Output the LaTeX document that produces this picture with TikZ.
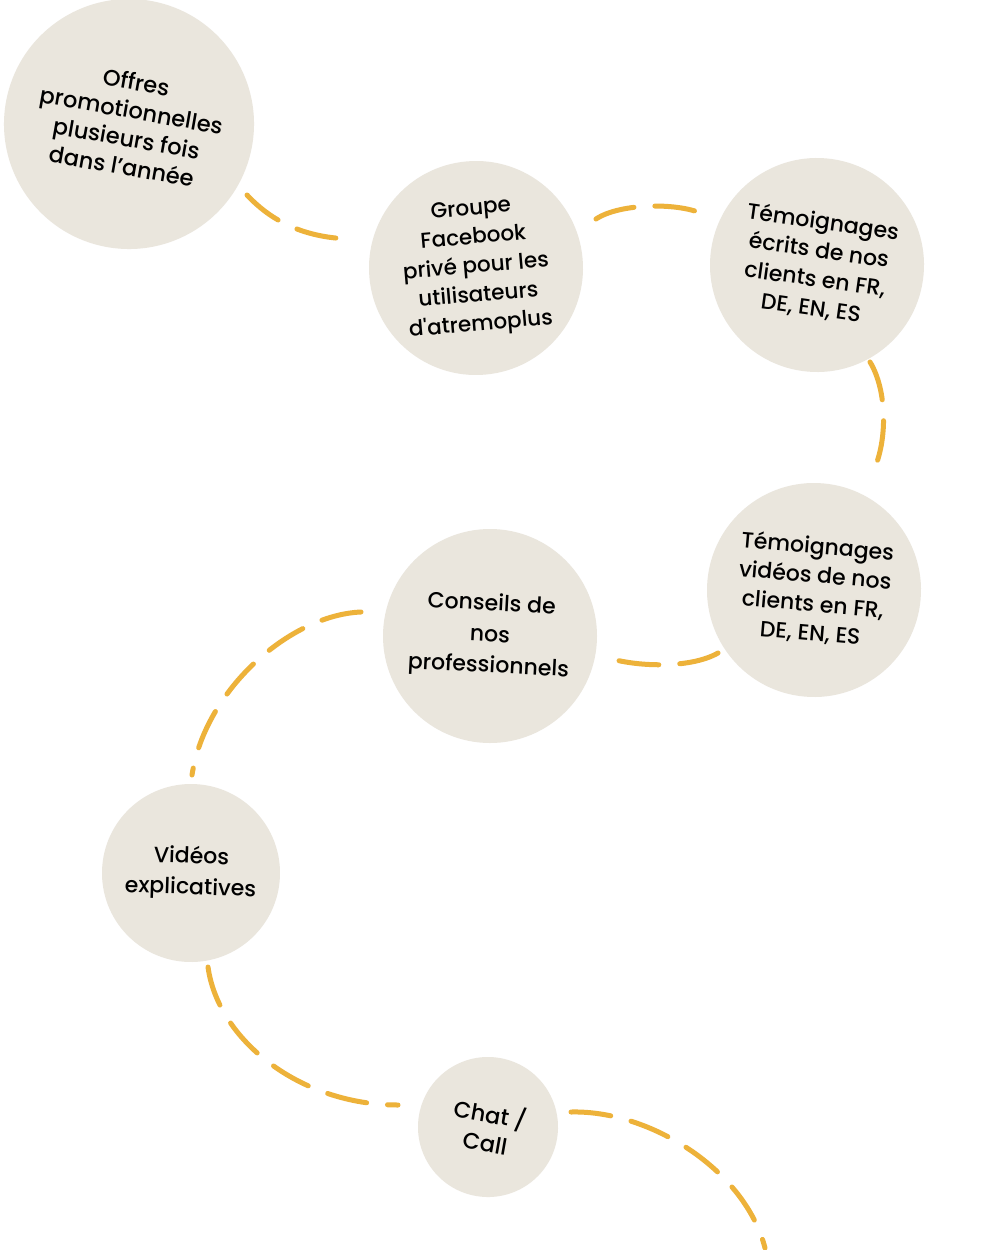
\documentclass[tikz,border=0pt]{standalone}
\usepackage{fontspec}
\IfFontExistsTF{Poppins Medium}{\setmainfont{Poppins Medium}}{\setmainfont{Poppins}}
\definecolor{beige}{HTML}{EAE6DD}
\definecolor{gold}{HTML}{EDB23A}
\begin{document}
\begin{tikzpicture}[x=1pt,y=-1pt,
  bubble/.style={circle, fill=beige, inner sep=0pt, align=center, text=black, font=\fontsize{22}{29}\selectfont},
  trail/.style={draw=gold, line width=5pt, line cap=round, dash pattern=on 40pt off 21pt}]
\useasboundingbox[fill=white] (0,0) rectangle (1000,1250);
\node[bubble, minimum size=250pt, rotate=-10, font=\fontsize{22.5}{28.5}\selectfont] (c1) at (129,124) {Offres\\promotionnelles\\plusieurs fois\\dans l’année};
\node[bubble, minimum size=214pt, rotate=5, font=\fontsize{21.5}{29}\selectfont] (c2) at (476,268) {Groupe\\Facebook\\privé pour les\\utilisateurs\\d\textquotesingle atremoplus};
\node[bubble, minimum size=214pt, rotate=-8] (c3) at (817,265) {Témoignages\\écrits de nos\\clients en FR,\\DE, EN, ES};
\node[bubble, minimum size=214pt, rotate=-5] (c4) at (814,590) {Témoignages\\vidéos de nos\\clients en FR,\\DE, EN, ES};
\node[bubble, minimum size=214pt, rotate=-3, font=\fontsize{22}{31}\selectfont] (c5) at (490,636) {Conseils de\\nos\\professionnels};
\node[bubble, minimum size=178pt, rotate=-2, font=\fontsize{22}{31}\selectfont] (c6) at (191,873) {Vidéos\\explicatives};
\node[bubble, minimum size=140pt, rotate=-10, font=\fontsize{22.5}{29}\selectfont] (c7) at (488,1127) {Chat /\\Call};
\coordinate (tail) at (765,1248);
\path[trail] ([shift={(118,71)}]c1.center) .. controls (275,225) and (310,238) .. ([shift={(-125,-29)}]c2.center);
\path[trail] ([shift={(120,-49)}]c2.center) .. controls (620,203) and (680,202) .. ([shift={(-112,-50)}]c3.center);
\path[trail] ([shift={(53,97)}]c3.center) .. controls (887,390) and (888,440) .. ([shift={(59,-118)}]c4.center);
\path[trail] ([shift={(-96,63)}]c4.center) .. controls (690,669) and (635,667) .. ([shift={(115,21)}]c5.center);
\path[trail] ([shift={(-129,-24)}]c5.center) .. controls (290,615) and (205,690) .. ([shift={(1,-98)}]c6.center);
\path[trail] ([shift={(17,94)}]c6.center) .. controls (218,1040) and (300,1105) .. ([shift={(-90,-22)}]c7.center);
\path[trail] ([shift={(83,-15)}]c7.center) .. controls (650,1110) and (745,1170) .. (tail);
\end{tikzpicture}
\end{document}
